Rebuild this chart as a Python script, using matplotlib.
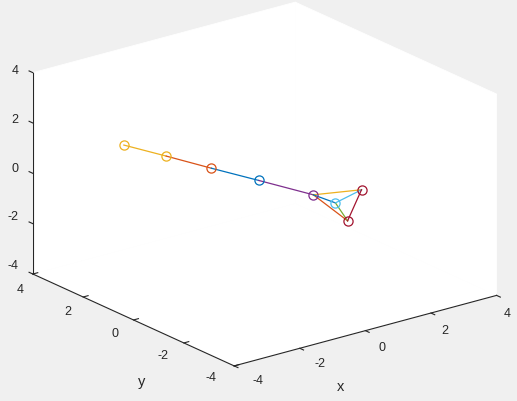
import numpy as np
import matplotlib
matplotlib.use('Agg')
import matplotlib.pyplot as plt
from mpl_toolkits.mplot3d.art3d import Poly3DCollection

# matlab default colour order
c_blue = '#0072BD'
c_orange = '#D95319'
c_yellow = '#EDB120'
c_purple = '#7E2F8E'
c_green = '#77AC30'
c_cyan = '#4DBEEE'
c_red = '#A2142F'

# joints: chain of 5 points + tetrahedron at the end
node_x = [-2.43, -1.70, -0.92, -0.10, 0.84, 1.22, 1.43, 1.67]
node_y = [2.43, 1.70, 0.92, 0.10, -0.84, -1.22, -1.43, -1.67]
node_z = [1.29, 0.93, 0.53, 0.13, -0.34, -0.62, -1.31, -0.05]
node_col = [c_yellow, c_yellow, c_orange, c_blue, c_purple, c_cyan, c_red, c_red]

# links between joints
edge_i = [0, 1, 2, 3, 4, 4, 4, 5, 5, 6]
edge_j = [1, 2, 3, 4, 7, 6, 5, 6, 7, 7]
edge_col = [c_yellow, c_orange, c_blue, c_purple, c_yellow, c_orange, c_blue,
            c_green, c_cyan, c_red]

ticks = [-4, -2, 0, 2, 4]
tick_labels = ['-4', '-2', '0', '2', '4']
lim = 4

axcol = '#262626'
fnt = 'Liberation Sans'

fig = plt.figure(figsize=(5.17, 4.01), dpi=100, facecolor='#f0f0f0')
ax = fig.add_axes([0, 0, 1, 1], projection='3d')
ax.computed_zorder = False
ax.set_axis_off()
ax.patch.set_visible(False)
ax.set_proj_type('ortho')
ax.view_init(elev=20.5, azim=-127.5)
ax.set_box_aspect((1, 1, 0.65))

# white back walls of the box
L = lim
walls = [
    [(L, -L, -L), (L, L, -L), (L, L, L), (L, -L, L)],
    [(-L, L, -L), (L, L, -L), (L, L, L), (-L, L, L)],
    [(-L, -L, -L), (L, -L, -L), (L, L, -L), (-L, L, -L)],
]
pc = Poly3DCollection(walls, facecolor='white', edgecolor='white', linewidth=0.6, zorder=0)
ax.add_collection3d(pc)

# axis lines
ax.plot([-L, L], [-L, -L], [-L, -L], color=axcol, lw=0.8, zorder=1)
ax.plot([-L, -L], [-L, L], [-L, -L], color=axcol, lw=0.8, zorder=1)
ax.plot([-L, -L], [L, L], [-L, L], color=axcol, lw=0.8, zorder=1)

tl = 0.15
for t in ticks:
    ax.plot([t, t], [-L, -L - tl], [-L, -L], color=axcol, lw=0.8, zorder=1)
    ax.plot([-L, -L + tl], [t, t], [-L, -L], color=axcol, lw=0.8, zorder=1)
    ax.plot([-L, -L], [L, L + tl], [t, t], color=axcol, lw=0.8, zorder=1)

# links
for i, j, c in zip(edge_i, edge_j, edge_col):
    ax.plot([node_x[i], node_x[j]], [node_y[i], node_y[j]], [node_z[i], node_z[j]],
            color=c, lw=0.9, zorder=2)
# joints
for x, y, z, c in zip(node_x, node_y, node_z, node_col):
    ax.plot([x], [y], [z], 'o', mfc='none', mec=c, ms=6.6, mew=0.9, zorder=3)

ax.set_xlim(-L, L)
ax.set_ylim(-L, L)
ax.set_zlim(-L, L)

W, H = fig.bbox.width, fig.bbox.height


def to_px(xs, ys, zs):
    M = ax.get_proj()
    v = M @ np.vstack([xs, ys, zs, np.ones(len(xs))])
    return ax.transData.transform(np.column_stack([v[0] / v[3], v[1] / v[3]]))


# place the box where it sits in the reference picture
fig.canvas.draw()
cx = np.array([-L, L, -L, -L, L])
cy = np.array([L, -L, L, -L, -L])
cz = np.array([-L, -L, L, -L, L])
pts = to_px(cx, cy, cz)
bb = ax.get_position()
x0, y0, w = bb.x0 * W, bb.y0 * H, bb.width * W
f = (pts - [x0, y0]) / w
tx = np.array([33, 496, 33, 234, 497])
ty = H - np.array([275, 295, 74, 366, 92])
A = np.zeros((10, 3))
b = np.zeros(10)
A[:5, 0] = 1
A[:5, 2] = f[:, 0]
b[:5] = tx
A[5:, 1] = 1
A[5:, 2] = f[:, 1]
b[5:] = ty
Ox, Oy, S = np.linalg.lstsq(A, b, rcond=None)[0]
ax.set_position([Ox / W, Oy / H, S / W, S / H])
fig.canvas.draw()

# tick labels and axis labels, as flat text at the projected spots
tk = np.array(ticks, dtype=float)
n = len(tk)
xl = to_px(0.95 * tk, np.full(n, -4.67), np.full(n, -4.37))
yl = to_px(np.full(n, -4.55), 0.95 * tk, np.full(n, -4.36))
zl = to_px(np.full(n, -4.44), np.full(n, L), 0.965 * tk + 0.34)
for k, s in enumerate(tick_labels):
    fig.text(xl[k, 0] / W, xl[k, 1] / H, s, ha='center', va='center', fontsize=9,
             color=axcol, family=fnt)
    fig.text(yl[k, 0] / W, yl[k, 1] / H, s, ha='center', va='center', fontsize=9,
             color=axcol, family=fnt)
    fig.text(zl[k, 0] / W, zl[k, 1] / H, s, ha='right', va='center', fontsize=9,
             color=axcol, family=fnt)

lab = to_px(np.array([-0.76, -4.0]), np.array([-4.0, -0.34]), np.array([-5.98, -6.29]))
fig.text(lab[0, 0] / W, lab[0, 1] / H, 'x', ha='center', va='center', fontsize=10.5,
         color=axcol, family=fnt)
fig.text(lab[1, 0] / W, lab[1, 1] / H, 'y', ha='center', va='center', fontsize=10.5,
         color=axcol, family=fnt)

fig.savefig('out.png', dpi=100, facecolor=fig.get_facecolor())
